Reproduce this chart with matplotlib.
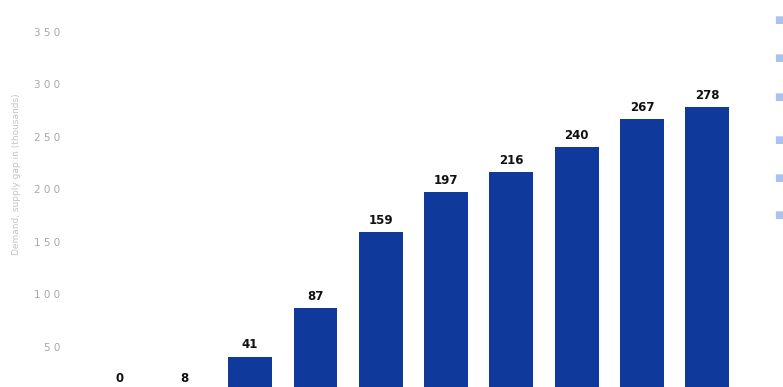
import numpy as np
import matplotlib.pyplot as plt

# data
categories = ['2012', '2013', '2014', '2015', '2016', '2017', '2018', '2019', '2020', '2021']
values = [0, 8, 41, 87, 159, 197, 216, 240, 267, 278]
y_ticks = [50, 100, 150, 200, 250, 300, 350]

fig = plt.figure(figsize=(7.83, 3.87), dpi=100)
# axes spans from x=80px to the right edge; the bottom is cut off like the original
ax = fig.add_axes([80 / 783, 0, 1 - 80 / 783, 1])

x = np.arange(len(categories))
ax.bar(x, values, width=0.67, color='#0f3a9c', zorder=2)

ylo = 12
for xi, v in zip(x, values):
    # keep the lowest label just inside the picture
    ax.text(xi, max(v + 5, ylo + 1.5), str(v), ha='center', va='bottom', fontsize=8.5,
            fontweight='bold', color='#111111')

ax.set_xlim(-0.605, 10.16)
ax.set_ylim(ylo, 380)
ax.set_xticks([])
ax.set_yticks(y_ticks)
ax.set_yticklabels([' '.join(list(str(t))) for t in y_ticks])
ax.tick_params(axis='y', length=0, pad=14, labelsize=7.5, labelcolor='#a8a8a8')
for s in ax.spines.values():
    s.set_visible(False)

fig.text(17 / 783, 0.55, 'Demand, supply gap in (thousands)', rotation=90,
         ha='center', va='center', fontsize=6.5, color='#c4c4c4')

# partly cut icons on the right edge
for yy in [20, 58, 97, 140, 178, 215]:
    fig.text(779 / 783, 1 - yy / 387, '■', fontsize=7, color='#a9c2ee',
             ha='center', va='center')

fig.savefig('out.png', dpi=100)
